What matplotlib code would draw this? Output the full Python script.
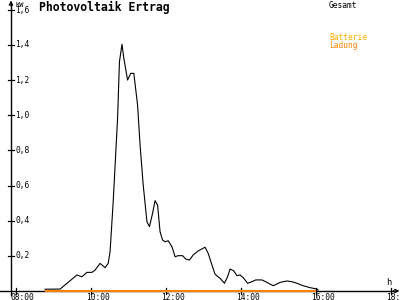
import matplotlib
matplotlib.use("Agg")
import matplotlib.pyplot as plt

# ---- data ----
gesamt_times = ["08:47", "09:11", "09:38", "09:46", "09:54", "10:02", "10:07", "10:15",
                "10:23", "10:28", "10:31", "10:36", "10:43", "10:46", "10:50", "10:53",
                "10:59", "11:04", "11:09", "11:15", "11:19", "11:24", "11:30", "11:34",
                "11:39", "11:43", "11:47", "11:51", "11:55", "11:59", "12:04", "12:10",
                "12:15", "12:20", "12:27", "12:32", "12:38", "12:44", "12:52", "13:03",
                "13:08", "13:14", "13:19", "13:27", "13:34", "13:39", "13:43", "13:49",
                "13:54", "13:59", "14:04", "14:11", "14:18", "14:24", "14:34", "14:42",
                "14:52", "15:03", "15:14", "15:22", "15:30", "15:40", "15:51", "16:02",
                "16:04"]
gesamt_kw = [0.01, 0.011, 0.091, 0.081, 0.106, 0.106, 0.119, 0.157,
             0.133, 0.157, 0.224, 0.508, 0.982, 1.304, 1.403, 1.324,
             1.200, 1.238, 1.238, 1.058, 0.830, 0.603, 0.394, 0.366,
             0.442, 0.514, 0.489, 0.337, 0.290, 0.280, 0.286, 0.252,
             0.195, 0.201, 0.201, 0.182, 0.176, 0.205, 0.228, 0.249,
             0.214, 0.148, 0.095, 0.072, 0.044, 0.081, 0.125, 0.114,
             0.087, 0.091, 0.076, 0.044, 0.053, 0.063, 0.063, 0.049,
             0.030, 0.049, 0.057, 0.053, 0.044, 0.030, 0.019, 0.011,
             0.006]
ladung_times = ["08:47", "16:00"]
ladung_kw = [0.0, 0.0]

x_ticks = ["08:00", "10:00", "12:00", "14:00", "16:00", "18:00"]
y_ticks = [0.2, 0.4, 0.6, 0.8, 1.0, 1.2, 1.4, 1.6]

title = "Photovoltaik Ertrag"


def to_h(s):
    h, m = s.split(":")
    return int(h) + int(m) / 60.0


# ---- layout (pixel mapping) ----
W, H = 400, 300
px_per_h = 37.5
x0_px = 15.7          # pixel column of 08:00
px_per_kw = 175.8
y0_px = 291.0         # pixel row of 0 kW


def t_at(px):
    return 8 + (px - x0_px) / px_per_h


def v_at(row):
    return (y0_px - row) / px_per_kw


fig = plt.figure(figsize=(4, 3), dpi=100)
ax = fig.add_axes([0, 0, 1, 1])
ax.set_xlim(t_at(0), t_at(W))
ax.set_ylim(v_at(H), v_at(0))
ax.axis("off")

mono = "DejaVu Sans Mono"
small = 5.7

# axes lines
yaxis_t = t_at(11)
ax.plot([yaxis_t, yaxis_t], [v_at(295), v_at(4)], color="black", lw=1.0)
ax.annotate("", xy=(yaxis_t, v_at(0.5)), xytext=(yaxis_t, v_at(6)),
            arrowprops=dict(arrowstyle="->", color="black", lw=0.9,
                            shrinkA=0, shrinkB=0, mutation_scale=6))
ax.plot([t_at(0), t_at(394)], [0, 0], color="black", lw=1.0)
ax.annotate("", xy=(t_at(399.5), 0), xytext=(t_at(393), 0),
            arrowprops=dict(arrowstyle="->", color="black", lw=0.9,
                            shrinkA=0, shrinkB=0, mutation_scale=6))

# y ticks & labels
for v in y_ticks:
    ax.plot([t_at(8), t_at(14)], [v, v], color="black", lw=0.9)
    ax.text(t_at(15), v_at(y0_px - v * px_per_kw + 0.8) if v == 1.6 else v,
            f"{v:.1f}".replace(".", ","), fontsize=small,
            family=mono, ha="left", va="center", color="black")
ax.text(t_at(15), v_at(6.5), "KW", fontsize=5.0, family=mono,
        ha="left", va="baseline", color="black")

# x ticks & labels
for s in x_ticks:
    t = to_h(s)
    ax.plot([t, t], [v_at(287.5), v_at(293.5)], color="black", lw=0.9)
    ax.text(t - 5 / px_per_h, v_at(292.5), s, fontsize=small, family=mono,
            ha="left", va="top", color="black")
ax.text(t_at(386), v_at(285), "h", fontsize=small + 0.5, family=mono,
        ha="left", va="baseline", color="black")

# data
ax.plot([to_h(s) for s in gesamt_times], gesamt_kw, color="black", lw=0.8)
ax.plot([to_h(s) for s in ladung_times], ladung_kw, color="#ff8000", lw=1.5,
        solid_capstyle="butt")

# title & legend
ax.text(t_at(39.5), v_at(10.5), title, fontsize=8.3, family=mono,
        fontweight="bold", ha="left", va="baseline", color="black")
ax.text(t_at(329), v_at(7.5), "Gesamt", fontsize=small, family=mono,
        ha="left", va="baseline", color="black")
ax.text(t_at(329), v_at(39.5), "Batterie", fontsize=small, family=mono,
        ha="left", va="baseline", color="#ffaa00")
ax.text(t_at(329), v_at(47.5), "Ladung", fontsize=small, family=mono,
        ha="left", va="baseline", color="#ff8000")

fig.savefig("out.png", dpi=100, facecolor="white")
